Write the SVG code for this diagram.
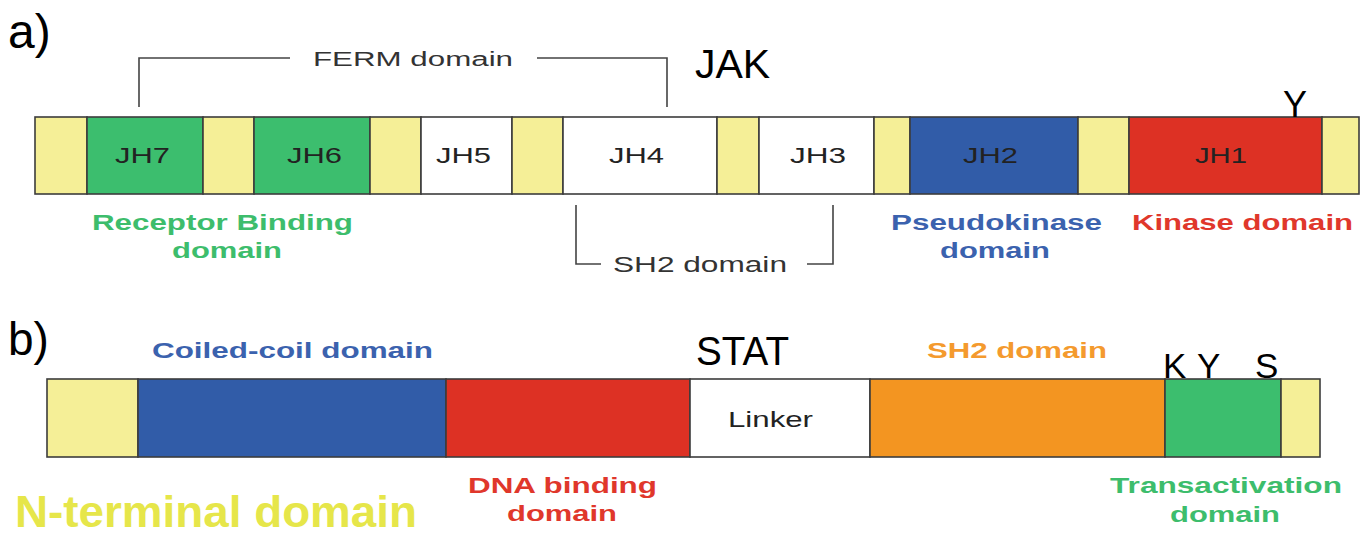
<svg xmlns="http://www.w3.org/2000/svg" width="1368" height="535" viewBox="0 0 1368 535">
<style>
  .seg{stroke:#3c3c3c;stroke-width:1.6}
  .y{fill:#f5ef97}
  .g{fill:#3cbe6e}
  .w{fill:#ffffff}
  .b{fill:#315ca8}
  .r{fill:#dd3124}
  .o{fill:#f39521}
  .lbl{font-family:"Liberation Sans",Arial,sans-serif;font-size:22px;fill:#222}
  .dom{font-family:"Liberation Sans",Arial,sans-serif;font-size:22px;font-weight:bold}
  .big{font-family:"Liberation Sans",Arial,sans-serif;fill:#000}
  .br{fill:none;stroke:#444;stroke-width:1.6}
</style>
<rect width="1368" height="535" fill="#ffffff"/>

<g id="panel-a-label"><text class="big" x="8" y="48" font-size="48">a)</text></g>
<g id="jak-title"><text class="big" x="695" y="78" font-size="41">JAK</text></g>

<g id="jak-linker1"><rect class="seg y" x="35" y="117" width="52" height="77"/></g>
<g id="JH7"><rect class="seg g" x="87" y="117" width="116" height="77"/><text class="lbl" x="115" y="163" textLength="55" lengthAdjust="spacingAndGlyphs">JH7</text></g>
<g id="jak-linker2"><rect class="seg y" x="203" y="117" width="51" height="77"/></g>
<g id="JH6"><rect class="seg g" x="254" y="117" width="116" height="77"/><text class="lbl" x="287" y="163" textLength="55" lengthAdjust="spacingAndGlyphs">JH6</text></g>
<g id="jak-linker3"><rect class="seg y" x="370" y="117" width="51" height="77"/></g>
<g id="JH5"><rect class="seg w" x="421" y="117" width="91" height="77"/><text class="lbl" x="436" y="163" textLength="55" lengthAdjust="spacingAndGlyphs">JH5</text></g>
<g id="jak-linker4"><rect class="seg y" x="512" y="117" width="51" height="77"/></g>
<g id="JH4"><rect class="seg w" x="563" y="117" width="154" height="77"/><text class="lbl" x="609" y="163" textLength="55" lengthAdjust="spacingAndGlyphs">JH4</text></g>
<g id="jak-linker5"><rect class="seg y" x="717" y="117" width="42" height="77"/></g>
<g id="JH3"><rect class="seg w" x="759" y="117" width="115" height="77"/><text class="lbl" x="790" y="163" textLength="56" lengthAdjust="spacingAndGlyphs">JH3</text></g>
<g id="jak-linker6"><rect class="seg y" x="874" y="117" width="36" height="77"/></g>
<g id="JH2"><rect class="seg b" x="910" y="117" width="168" height="77"/><text class="lbl" x="963" y="163" textLength="55" lengthAdjust="spacingAndGlyphs">JH2</text></g>
<g id="jak-linker7"><rect class="seg y" x="1078" y="117" width="51" height="77"/></g>
<g id="JH1"><rect class="seg r" x="1129" y="117" width="193" height="77"/><text class="lbl" x="1195" y="163" textLength="52" lengthAdjust="spacingAndGlyphs">JH1</text></g>
<g id="jak-linker8"><rect class="seg y" x="1322" y="117" width="37" height="77"/></g>
<g id="jak-Y"><text class="big" x="1283" y="117" font-size="36">Y</text></g>

<g id="connectors">
  <path class="br" d="M139,107 V58 H290"/>
  <path class="br" d="M537,58 H667 V107"/>
  <path class="br" d="M576,205 V264 H601"/>
  <path class="br" d="M807,264 H833 V205"/>
</g>

<g id="ferm-label"><text class="lbl" x="313" y="66" style="font-size:20px;fill:#333" textLength="200" lengthAdjust="spacingAndGlyphs">FERM domain</text></g>
<g id="sh2-jak-label"><text class="lbl" x="613" y="272" style="fill:#333" textLength="174" lengthAdjust="spacingAndGlyphs">SH2 domain</text></g>
<g id="receptor-label" fill="#3dbd6c">
  <text class="dom" x="92" y="230" textLength="261" lengthAdjust="spacingAndGlyphs">Receptor Binding</text>
  <text class="dom" x="172" y="258" textLength="110" lengthAdjust="spacingAndGlyphs">domain</text>
</g>
<g id="pseudokinase-label" fill="#3b62ae">
  <text class="dom" x="891" y="230" textLength="211" lengthAdjust="spacingAndGlyphs">Pseudokinase</text>
  <text class="dom" x="940" y="258" textLength="110" lengthAdjust="spacingAndGlyphs">domain</text>
</g>
<g id="kinase-label" fill="#e0372b">
  <text class="dom" x="1132" y="230" textLength="221" lengthAdjust="spacingAndGlyphs">Kinase domain</text>
</g>

<g id="panel-b-label"><text class="big" x="8" y="355" font-size="46">b)</text></g>
<g id="stat-title"><text class="big" x="696" y="365" font-size="41" textLength="93" lengthAdjust="spacingAndGlyphs">STAT</text></g>

<g id="stat-nterm"><rect class="seg y" x="47" y="379" width="91" height="78"/></g>
<g id="stat-coiled"><rect class="seg b" x="138" y="379" width="308" height="78"/></g>
<g id="stat-dna"><rect class="seg r" x="446" y="379" width="244" height="78"/></g>
<g id="stat-linker"><rect class="seg w" x="690" y="379" width="180" height="78"/><text class="lbl" x="728" y="427" textLength="85" lengthAdjust="spacingAndGlyphs">Linker</text></g>
<g id="stat-sh2"><rect class="seg o" x="870" y="379" width="295" height="78"/></g>
<g id="stat-ta"><rect class="seg g" x="1165" y="379" width="116" height="78"/></g>
<g id="stat-cterm"><rect class="seg y" x="1281" y="379" width="39" height="78"/></g>
<g id="stat-residues">
  <text class="big" x="1163" y="378" font-size="35">K</text>
  <text class="big" x="1197" y="378" font-size="35">Y</text>
  <text class="big" x="1255" y="378" font-size="35">S</text>
</g>

<g id="coiled-label" fill="#3b62ae"><text class="dom" x="152" y="358" textLength="281" lengthAdjust="spacingAndGlyphs">Coiled-coil domain</text></g>
<g id="sh2-stat-label" fill="#f49a2e"><text class="dom" x="927" y="358" textLength="180" lengthAdjust="spacingAndGlyphs">SH2 domain</text></g>
<g id="dna-label" fill="#e0372b">
  <text class="dom" x="468" y="493" textLength="189" lengthAdjust="spacingAndGlyphs">DNA binding</text>
  <text class="dom" x="507" y="521" textLength="110" lengthAdjust="spacingAndGlyphs">domain</text>
</g>
<g id="ta-label" fill="#3dbd6c">
  <text class="dom" x="1110" y="493" textLength="232" lengthAdjust="spacingAndGlyphs">Transactivation</text>
  <text class="dom" x="1170" y="522" textLength="110" lengthAdjust="spacingAndGlyphs">domain</text>
</g>
<g id="nterm-label"><text x="15" y="527" font-family="Liberation Sans, Arial, sans-serif" font-size="44" font-weight="bold" fill="#e6e64a" textLength="402" lengthAdjust="spacingAndGlyphs">N-terminal domain</text></g>
</svg>
